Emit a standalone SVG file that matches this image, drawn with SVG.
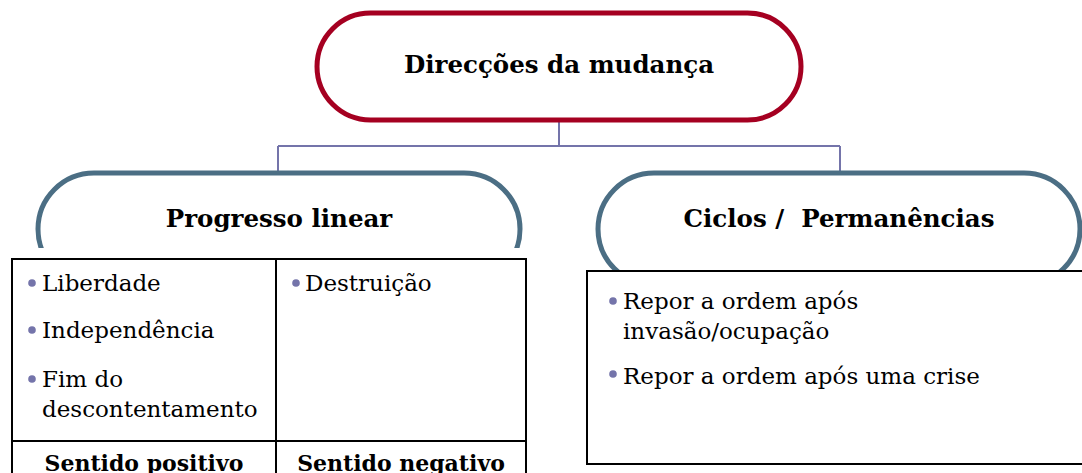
<svg xmlns="http://www.w3.org/2000/svg" width="1082" height="473" viewBox="0 0 1082 473">
<style>
.t{font-family:"DejaVu Serif","Liberation Serif",serif;fill:#000}
.h{font-weight:bold;font-size:24.5px;text-anchor:middle}
.b{font-size:23px}
.l{font-weight:bold;font-size:22px;text-anchor:middle}
.dot{fill:#7474AA}
.conn{stroke:#7474AA;stroke-width:2;fill:none}
.pillB{fill:#fff;stroke:#4B6E84;stroke-width:5}
</style>
<defs>
<clipPath id="cl"><rect x="0" y="160" width="560" height="88"/></clipPath>
</defs>
<g id="connectors">
<path class="conn" d="M559 122V146M278 146H840M278 146V172M840 146V172"/>
</g>
<g id="top">
<rect x="317" y="13" width="484" height="107" rx="53.5" fill="#fff" stroke="#A50021" stroke-width="5"/>
<text class="t h" x="559" y="73">Direcções da mudança</text>
</g>
<g id="left">
<rect class="pillB" x="38" y="173" width="482" height="112" rx="56" clip-path="url(#cl)"/>
<text class="t h" x="279" y="227">Progresso linear</text>
<rect x="12" y="259" width="514" height="230" fill="#fff" stroke="#000" stroke-width="2"/>
<path d="M276 259V473M12 441H526" stroke="#000" stroke-width="2"/>
<circle class="dot" cx="32" cy="283" r="3.8"/>
<circle class="dot" cx="32" cy="330" r="3.8"/>
<circle class="dot" cx="32" cy="379" r="3.8"/>
<circle class="dot" cx="296" cy="283" r="3.8"/>
<text class="t b" x="42" y="291">Liberdade</text>
<text class="t b" x="42" y="338">Independência</text>
<text class="t b" x="42" y="387">Fim do</text>
<text class="t b" x="42" y="417">descontentamento</text>
<text class="t b" x="305" y="291">Destruição</text>
<text class="t l" x="144" y="471">Sentido positivo</text>
<text class="t l" x="401" y="471">Sentido negativo</text>
</g>
<g id="right">
<rect class="pillB" x="598" y="173" width="482" height="112" rx="56"/>
<text class="t h" x="839" y="227" xml:space="preserve">Ciclos /  Permanências</text>
<rect x="587" y="271" width="510" height="193" fill="#fff" stroke="#000" stroke-width="2"/>
<circle class="dot" cx="613" cy="301" r="3.8"/>
<circle class="dot" cx="613" cy="374" r="3.8"/>
<text class="t b" x="623" y="309">Repor a ordem após</text>
<text class="t b" x="623" y="339">invasão/ocupação</text>
<text class="t b" x="623" y="384">Repor a ordem após uma crise</text>
</g>
</svg>
